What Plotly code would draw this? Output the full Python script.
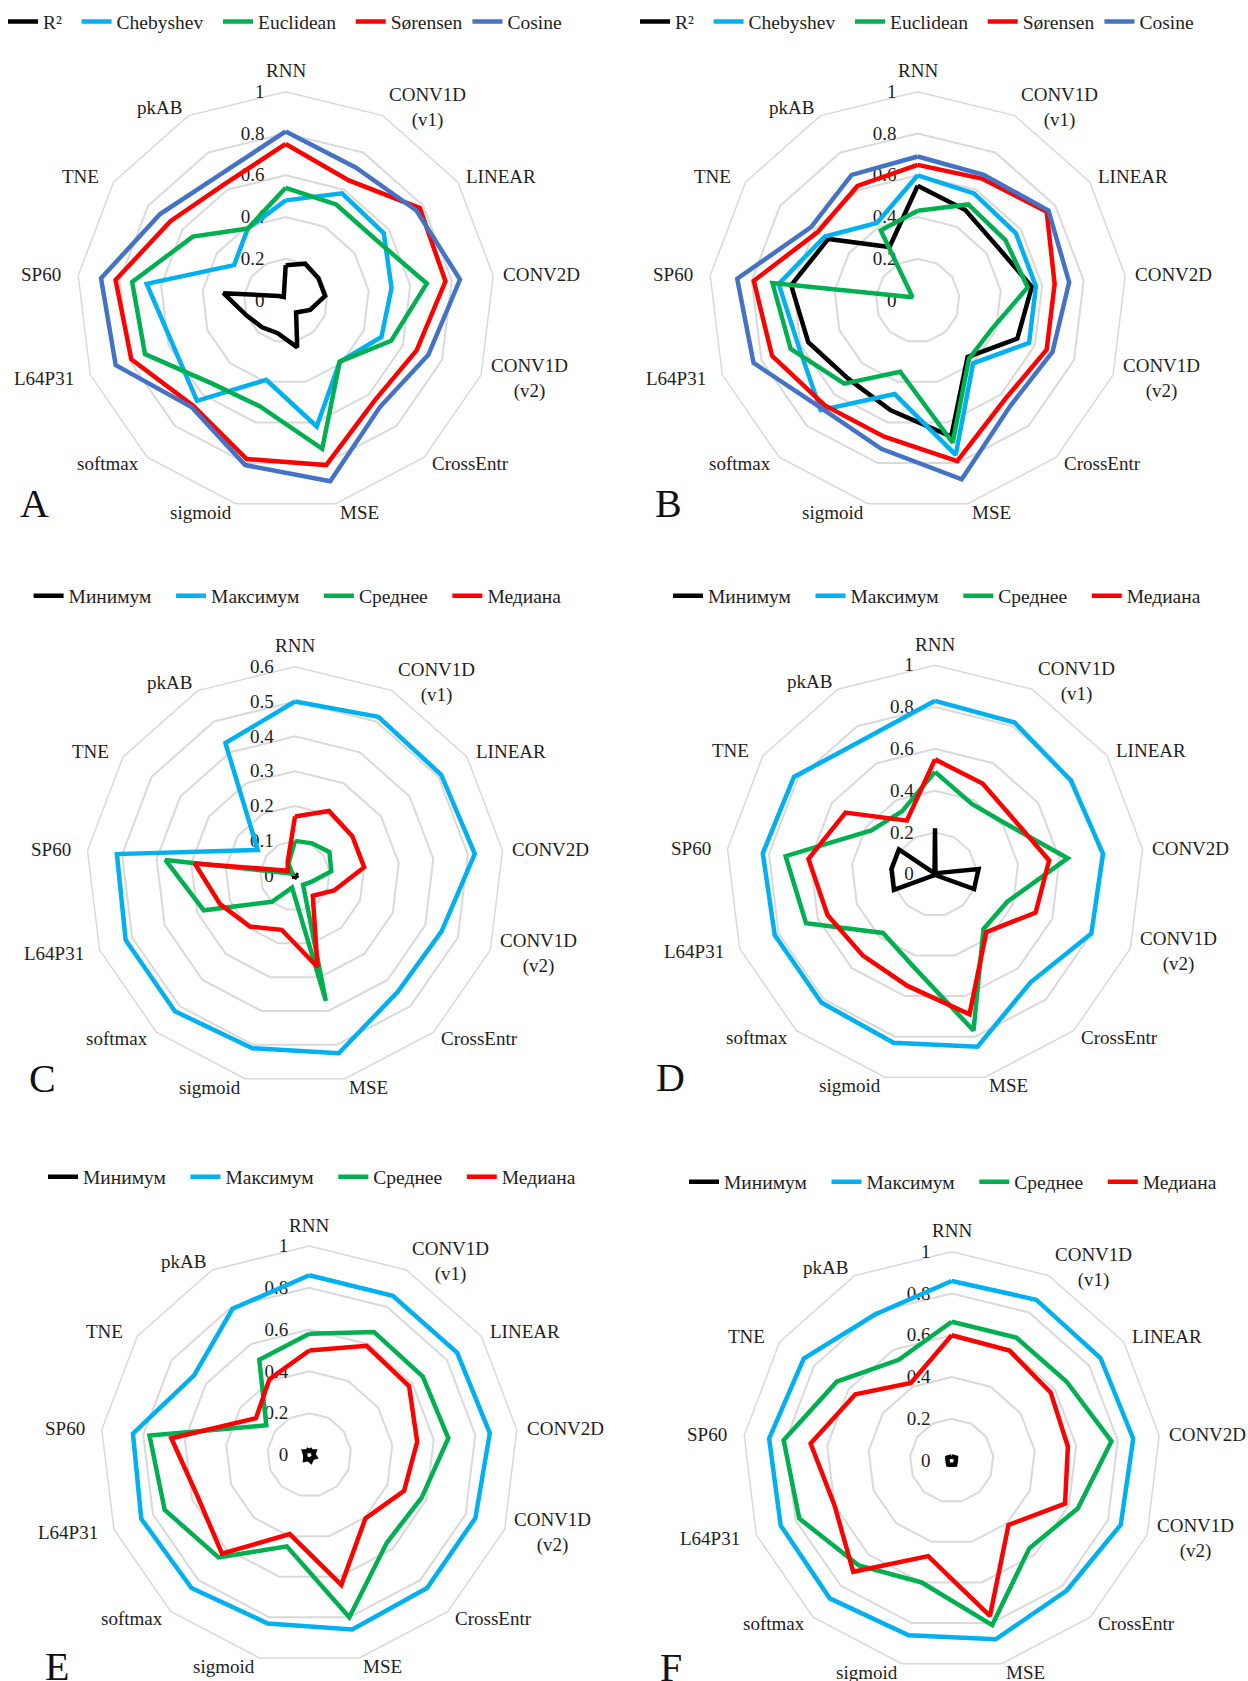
import math
import plotly.graph_objects as go

FONT = "Liberation Serif"

categories = ["RNN", "CONV1D<br>(v1)", "LINEAR", "CONV2D", "CONV1D<br>(v2)", "CrossEntr", "MSE",
              "sigmoid", "softmax", "L64P31", "SP60", "TNE", "pkAB"]

metric_names = ["R²", "Chebyshev", "Euclidean", "Sørensen", "Cosine"]
stat_names = ["Минимум", "Максимум", "Среднее", "Медиана"]

# Panel A
a_r2 = [0.17, 0.20, 0.19, 0.19, 0.125, 0.075, 0.23, 0.16, 0.17, 0.20, 0.30, 0.04, 0.02]
a_cheb = [0.48, 0.58, 0.57, 0.51, 0.49, 0.39, 0.62, 0.39, 0.64, 0.58, 0.67, 0.30, 0.39]
a_eucl = [0.54, 0.52, 0.52, 0.68, 0.54, 0.39, 0.73, 0.52, 0.53, 0.72, 0.74, 0.54, 0.39]
a_sor = [0.75, 0.65, 0.78, 0.77, 0.67, 0.64, 0.81, 0.78, 0.67, 0.79, 0.82, 0.67, 0.63]
a_cos = [0.81, 0.72, 0.76, 0.84, 0.73, 0.68, 0.89, 0.81, 0.68, 0.87, 0.89, 0.73, 0.68]

# Panel B
b_r2 = [0.55, 0.49, 0.46, 0.55, 0.51, 0.36, 0.67, 0.54, 0.50, 0.56, 0.61, 0.52, 0.29]
b_cheb = [0.60, 0.58, 0.57, 0.57, 0.57, 0.40, 0.76, 0.46, 0.70, 0.61, 0.67, 0.54, 0.42]
b_eucl = [0.43, 0.52, 0.51, 0.53, 0.38, 0.37, 0.70, 0.35, 0.53, 0.65, 0.70, 0.03, 0.38]
b_sor = [0.65, 0.66, 0.75, 0.66, 0.66, 0.63, 0.79, 0.67, 0.67, 0.745, 0.79, 0.58, 0.62]
b_cos = [0.69, 0.68, 0.76, 0.73, 0.69, 0.67, 0.88, 0.73, 0.69, 0.84, 0.87, 0.62, 0.68]

# Panel C
c_min = [0.004, 0.003, 0.004, 0.003, 0.004, 0.003, 0.004, 0.003, 0.004, 0.003, 0.004, 0.003, 0.004]
c_max = [0.50, 0.515, 0.51, 0.52, 0.45, 0.445, 0.525, 0.51, 0.52, 0.52, 0.515, 0.13, 0.43]
c_mean = [0.10, 0.105, 0.12, 0.105, 0.05, 0.035, 0.37, 0.035, 0.10, 0.28, 0.375, 0.01, 0.04]
c_med = [0.17, 0.21, 0.20, 0.20, 0.12, 0.077, 0.27, 0.16, 0.195, 0.23, 0.29, 0.025, 0.045]

# Panel D
d_min = [0.22, 0.005, 0.01, 0.21, 0.20, 0.005, 0.005, 0.005, 0.005, 0.21, 0.21, 0.21, 0.005]
d_max = [0.83, 0.82, 0.79, 0.81, 0.80, 0.69, 0.85, 0.83, 0.82, 0.82, 0.83, 0.82, 0.73]
d_mean = [0.49, 0.38, 0.42, 0.64, 0.37, 0.35, 0.77, 0.45, 0.375, 0.66, 0.72, 0.37, 0.34]
d_med = [0.55, 0.49, 0.46, 0.55, 0.515, 0.37, 0.69, 0.55, 0.52, 0.55, 0.61, 0.52, 0.29]

# Panel E
e_min = [0.03, 0.02, 0.03, 0.02, 0.03, 0.02, 0.03, 0.02, 0.03, 0.02, 0.02, 0.03, 0.02]
e_max = [0.86, 0.86, 0.86, 0.87, 0.85, 0.85, 0.86, 0.83, 0.85, 0.86, 0.85, 0.67, 0.79]
e_mean = [0.58, 0.665, 0.66, 0.67, 0.575, 0.56, 0.80, 0.45, 0.655, 0.74, 0.77, 0.25, 0.515]
e_med = [0.50, 0.59, 0.58, 0.52, 0.485, 0.405, 0.64, 0.39, 0.63, 0.57, 0.665, 0.31, 0.41]

# Panel F
f_min = [0.02, 0.02, 0.025, 0.02, 0.02, 0.025, 0.02, 0.02, 0.025, 0.02, 0.02, 0.025, 0.02]
f_max = [0.86, 0.87, 0.865, 0.875, 0.865, 0.83, 0.88, 0.86, 0.88, 0.875, 0.88, 0.86, 0.79]
f_mean = [0.665, 0.665, 0.667, 0.77, 0.645, 0.56, 0.81, 0.60, 0.67, 0.78, 0.81, 0.667, 0.545]
f_med = [0.60, 0.595, 0.575, 0.56, 0.58, 0.41, 0.765, 0.47, 0.71, 0.60, 0.68, 0.56, 0.42]

metric_colors = ["#000000", "#00B0F0", "#00B050", "#FF0000", "#4472C4"]
stat_colors = ["#000000", "#00B0F0", "#00B050", "#FF0000"]

# extra spacing (non-breaking spaces) after each legend entry
metric_pad = [2, 2, 2, 0, 0]
stat_pad = [3, 3, 3, 0]

W, H = 1248, 1681
TXT = "#1e1e1e"

# (polar id, legend id, names, colors, pads, series, centre x, centre y, radius px, rmax, dtick,
#  legend x, legend y, letter, letter x, letter y)
panels = [
    ("polar", "legend", metric_names, metric_colors, metric_pad, [a_r2, a_cheb, a_eucl, a_sor, a_cos],
     285.7, 300.7, 209, 1.0, 0.2, 3, 21.8, "A", 34, 503),
    ("polar2", "legend2", metric_names, metric_colors, metric_pad, [b_r2, b_cheb, b_eucl, b_sor, b_cos],
     917.7, 300.7, 209, 1.0, 0.2, 635, 21.8, "B", 668, 503),
    ("polar3", "legend3", stat_names, stat_colors, stat_pad, [c_min, c_max, c_mean, c_med],
     295.0, 875.7, 209, 0.6, 0.1, 28.6, 596, "C", 42, 1078),
    ("polar4", "legend4", stat_names, stat_colors, stat_pad, [d_min, d_max, d_mean, d_med],
     935.0, 874.3, 209, 1.0, 0.2, 668, 596, "D", 670, 1077),
    ("polar5", "legend5", stat_names, stat_colors, stat_pad, [e_min, e_max, e_mean, e_med],
     309.3, 1455.0, 209, 1.0, 0.2, 43, 1177, "E", 57, 1666),
    ("polar6", "legend6", stat_names, stat_colors, stat_pad, [f_min, f_max, f_mean, f_med],
     951.7, 1460.7, 209, 1.0, 0.2, 684, 1182, "F", 671, 1667),
]

fig = go.Figure()
layout = dict(
    width=W, height=H,
    margin=dict(l=0, r=0, t=0, b=0),
    paper_bgcolor="white",
    font=dict(family=FONT, color=TXT),
    annotations=[],
)

n = len(categories)
for (pid, lid, names, colors, pads, series, cx, cy, R, rmax, dtick, lx, ly, letter, tx, ty) in panels:
    for name, color, pad, vals in zip(names, colors, pads, series):
        fig.add_trace(go.Scatterpolar(
            r=list(vals) + [vals[0]],
            theta=categories + [categories[0]],
            mode="lines",
            name=name + "\u00a0" * pad,
            line=dict(color=color, width=4.5),
            subplot=pid,
            legend=lid,
            hoverinfo="skip",
        ))
    layout[pid] = dict(
        domain=dict(x=[(cx - R) / W, (cx + R) / W], y=[1 - (cy + R) / H, 1 - (cy - R) / H]),
        gridshape="linear",
        bgcolor="white",
        angularaxis=dict(
            direction="clockwise", rotation=90, showgrid=False, showline=True,
            linecolor="#D9D9D9", linewidth=1.5, ticks="", showticklabels=False,
            layer="below traces",
        ),
        radialaxis=dict(
            range=[0, rmax], dtick=dtick, showline=False, gridcolor="#D9D9D9", gridwidth=1.5,
            ticks="outside", ticklen=14, tickcolor="rgba(0,0,0,0)", angle=90, tickangle=90,
            side="counterclockwise",
            tickfont=dict(family=FONT, size=19, color=TXT),
            layer="below traces",
        ),
    )
    layout[lid] = dict(
        orientation="h", x=lx / W, y=1 - ly / H, xanchor="left", yanchor="middle",
        font=dict(family=FONT, size=19.5, color=TXT),
        bgcolor="rgba(0,0,0,0)", itemwidth=30, itemclick=False, itemdoubleclick=False,
    )
    # category labels placed just outside each vertex of the outer polygon
    for k, cat in enumerate(categories):
        ang = 2 * math.pi * k / n
        dx, dy = math.sin(ang), -math.cos(ang)
        vx, vy = cx + R * dx, cy + R * dy
        if abs(dx) < 0.1:
            px, py, xa = vx, vy - 21, "center"
        elif dx > 0:
            px, py, xa = vx + 8 * abs(dx), vy + 9 * dy, "left"
        else:
            gap = 9 if abs(dy) > 0.7 else 15
            px, py, xa = vx - gap * abs(dx), vy + 9 * dy, "right"
        layout["annotations"].append(dict(
            text=cat, x=px / W, y=1 - py / H, xref="paper", yref="paper",
            xanchor=xa, yanchor="middle", showarrow=False, align="center",
            font=dict(family=FONT, size=19, color=TXT),
        ))
    layout["annotations"].append(dict(
        text=letter, x=tx / W, y=1 - ty / H, xref="paper", yref="paper",
        xanchor="center", yanchor="middle", showarrow=False,
        font=dict(family=FONT, size=40, color="#111111"),
    ))

fig.update_layout(**layout)
fig.write_html("out.html", include_plotlyjs=True, config={"displayModeBar": False},
               post_script="document.body.style.margin='0';")
